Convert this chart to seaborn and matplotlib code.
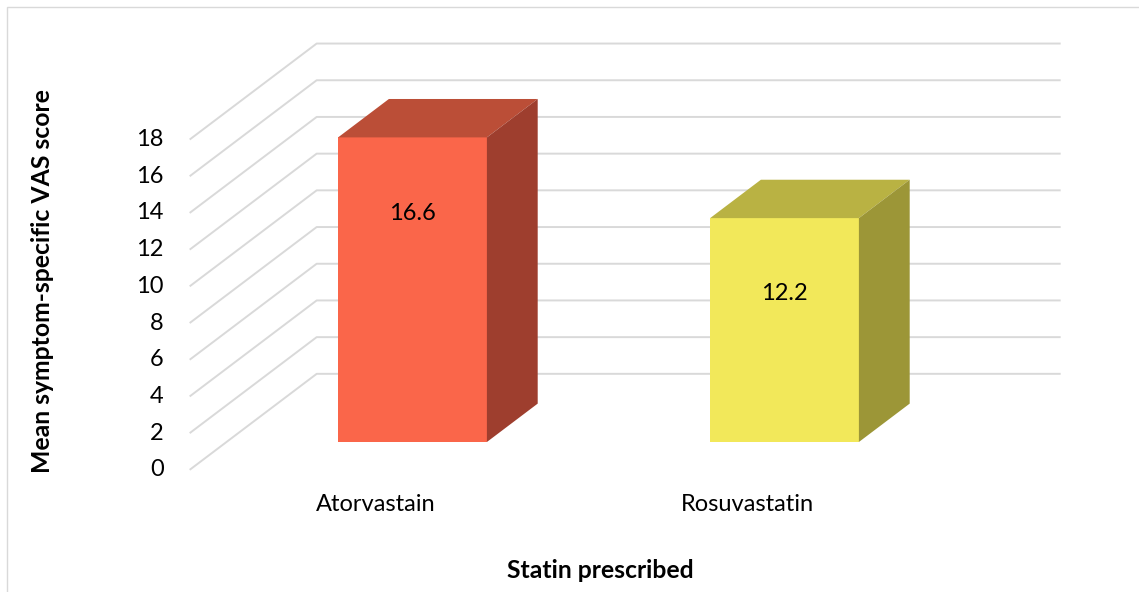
import numpy as np
import pandas as pd
import seaborn as sns
import matplotlib.pyplot as plt
from matplotlib.patches import Polygon, Rectangle

# data
drugs = ['Atorvastain', 'Rosuvastatin']
scores = [16.6, 12.2]
yticks = [0, 2, 4, 6, 8, 10, 12, 14, 16, 18]

front_colors = ['#FA664A', '#F2E85A']
top_colors = ['#BB4E37', '#B9B243']
side_colors = ['#9E3E2E', '#9C9637']
grid_color = '#D9D9D9'

sns.set_style('white')
plt.rcParams['font.family'] = ['Lato', 'DejaVu Sans']

fig = plt.figure(figsize=(11.39, 5.92), dpi=100)
ax = fig.add_axes([0, 0, 1, 1])

df = pd.DataFrame({'drug': drugs, 'score': scores})
sns.barplot(data=df, x='drug', y='score', hue='drug', palette=front_colors,
            width=0.4, saturation=1, legend=False, linewidth=0, ax=ax, zorder=3)

# fake 3D geometry (full depth of the floor, in data units)
Dx, Dy = 127 / 372, 96 / 18.35
t0 = 0.29      # depth of bar front plane
tb = 0.40      # bar depth

# back wall gridlines + left side diagonals
for v in yticks:
    xs = [-0.5 - t0 * Dx, -0.5 + (1 - t0) * Dx, 1.5 + (1 - t0) * Dx]
    ys = [v - t0 * Dy, v + (1 - t0) * Dy, v + (1 - t0) * Dy]
    ax.plot(xs, ys, color=grid_color, lw=1.4, zorder=1, solid_capstyle='butt')
    ax.text(-0.5 - t0 * Dx - 0.07, v - t0 * Dy, str(v), ha='right', va='center',
            fontsize=17, color='black')

bdx, bdy = tb * Dx, tb * Dy
bars = sorted(ax.patches, key=lambda p: p.get_x())
for i, p in enumerate(bars):
    x0, x1, h = p.get_x(), p.get_x() + p.get_width(), p.get_height()
    top = Polygon([(x0, h), (x1, h), (x1 + bdx, h + bdy), (x0 + bdx, h + bdy)],
                  closed=True, facecolor=top_colors[i], edgecolor='none', zorder=3)
    side = Polygon([(x1, 0), (x1, h), (x1 + bdx, h + bdy), (x1 + bdx, bdy)],
                   closed=True, facecolor=side_colors[i], edgecolor='none', zorder=3)
    ax.add_patch(top)
    ax.add_patch(side)
    ax.text(x0 + p.get_width() / 2, h - 4.13, f'{scores[i]}', ha='center',
            va='center', fontsize=17, color='black', zorder=4)

for i, d in enumerate(drugs):
    ax.text(i - t0 * Dx, -3.43, d, ha='center', va='center', fontsize=17, color='black')

ax.set_xlim(-412.5 / 372, (1139 - 412.5) / 372)
ax.set_ylim((442 - 592) / 18.35, 442 / 18.35)
ax.axis('off')

fig.text(600 / 1139, 1 - 570 / 592, 'Statin prescribed', ha='center', va='center',
         fontsize=17.8, fontweight='bold', color='black')
fig.text(43 / 1139, 1 - 281 / 592, 'Mean symptom-specific VAS score', ha='center',
         va='center', rotation=90, fontsize=17.8, fontweight='bold', color='black')

# chart area border
fig.patches.append(Rectangle((7 / 1139, -0.1), 1.2, 1.1 - 7 / 592, transform=fig.transFigure,
                             fill=False, edgecolor=grid_color, lw=1))

fig.savefig('out.png', dpi=100)
